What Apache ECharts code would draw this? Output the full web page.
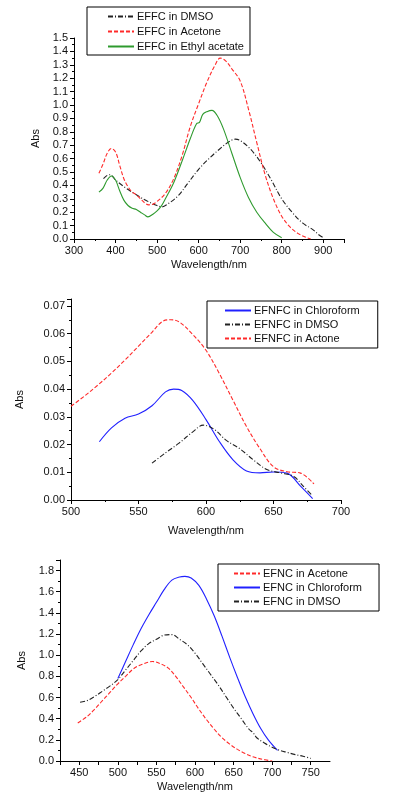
<!DOCTYPE html>
<html>
<head>
    <meta charset="utf-8">
    <title>absorption spectra</title>
    <script src="https://cdn.jsdelivr.net/npm/echarts@6/dist/echarts.min.js"></script>
    <style>
        html, body { margin: 0; padding: 0; background: #fff; }
    </style>
</head>
<body>
<div id="chart" style="width: 399px; height: 802px;"></div>
<script>
    // spectra: [wavelength nm, Abs]
    var effcDmso = [[371, 0.45], [380, 0.475], [387, 0.48], [400, 0.44], [425, 0.38], [450, 0.33], [475, 0.285], [500, 0.25], [512, 0.24], [525, 0.26], [550, 0.32], [575, 0.42], [600, 0.52], [625, 0.6], [650, 0.67], [675, 0.73], [688, 0.745], [700, 0.735], [725, 0.67], [750, 0.57], [775, 0.44], [800, 0.3], [825, 0.2], [850, 0.12], [875, 0.07], [890, 0.03], [900, 0.01]];
    var effcAcetone = [[360, 0.49], [370, 0.56], [380, 0.64], [390, 0.675], [400, 0.65], [410, 0.55], [420, 0.45], [430, 0.39], [440, 0.35], [450, 0.33], [460, 0.3], [470, 0.27], [480, 0.255], [490, 0.26], [500, 0.28], [520, 0.34], [540, 0.45], [560, 0.62], [580, 0.84], [600, 1.01], [620, 1.17], [640, 1.3], [652, 1.35], [665, 1.33], [680, 1.27], [700, 1.18], [720, 0.97], [740, 0.72], [760, 0.48], [780, 0.3], [800, 0.17], [820, 0.09], [840, 0.04], [860, 0.01], [870, 0]];
    var effcEthyl = [[360, 0.35], [370, 0.38], [380, 0.44], [390, 0.47], [400, 0.44], [410, 0.36], [420, 0.29], [430, 0.25], [440, 0.23], [450, 0.22], [460, 0.2], [470, 0.18], [478, 0.165], [490, 0.185], [500, 0.21], [510, 0.245], [520, 0.3], [540, 0.42], [560, 0.58], [580, 0.75], [595, 0.86], [602, 0.87], [610, 0.93], [620, 0.95], [632, 0.96], [645, 0.92], [660, 0.82], [680, 0.64], [700, 0.46], [720, 0.31], [740, 0.2], [760, 0.12], [780, 0.05], [800, 0.01]];

    var efnfcChloro = [[521, 0.021], [530, 0.026], [540, 0.0295], [550, 0.031], [560, 0.034], [570, 0.039], [576, 0.040], [582, 0.0395], [590, 0.036], [600, 0.029], [610, 0.021], [620, 0.0145], [630, 0.0105], [640, 0.0098], [650, 0.0101], [660, 0.0097], [670, 0.005], [679, 0.0005]];
    var efnfcDmso = [[560, 0.0133], [570, 0.017], [580, 0.0205], [590, 0.0245], [598, 0.027], [606, 0.0255], [615, 0.0215], [625, 0.0185], [635, 0.0145], [645, 0.011], [655, 0.0098], [665, 0.0085], [672, 0.005], [679, 0.0015]];
    var efnfcActone = [[500, 0.0338], [510, 0.0375], [520, 0.0415], [530, 0.0458], [540, 0.0505], [550, 0.0555], [560, 0.0605], [568, 0.0645], [574, 0.065], [580, 0.0643], [590, 0.0598], [600, 0.054], [610, 0.0455], [620, 0.036], [630, 0.0265], [640, 0.0185], [650, 0.012], [660, 0.0102], [670, 0.0097], [680, 0.0058]];

    var efncAcetone = [[448, 0.36], [460, 0.42], [470, 0.49], [480, 0.57], [490, 0.65], [500, 0.73], [510, 0.8], [520, 0.87], [530, 0.91], [545, 0.94], [555, 0.92], [565, 0.88], [575, 0.8], [585, 0.7], [595, 0.6], [605, 0.49], [615, 0.39], [625, 0.3], [635, 0.22], [645, 0.16], [655, 0.11], [665, 0.07], [675, 0.04], [685, 0.02], [700, 0]];
    var efncChloro = [[500, 0.78], [510, 0.94], [520, 1.1], [530, 1.25], [540, 1.38], [550, 1.5], [560, 1.62], [570, 1.71], [580, 1.74], [587, 1.745], [595, 1.73], [605, 1.66], [615, 1.53], [625, 1.37], [635, 1.18], [645, 0.98], [655, 0.79], [665, 0.61], [675, 0.45], [685, 0.31], [695, 0.2], [707, 0.1]];
    var efncDmso = [[451, 0.555], [460, 0.57], [470, 0.61], [480, 0.66], [490, 0.71], [500, 0.77], [510, 0.86], [520, 0.95], [530, 1.04], [540, 1.11], [550, 1.15], [560, 1.19], [570, 1.195], [580, 1.15], [590, 1.1], [600, 1.02], [610, 0.92], [620, 0.82], [630, 0.72], [640, 0.61], [650, 0.5], [660, 0.4], [670, 0.3], [675, 0.27], [680, 0.22], [690, 0.17], [700, 0.13], [710, 0.1], [720, 0.08], [730, 0.06], [740, 0.045], [750, 0.025]];

    var FONT = 'Liberation Sans, Arial, sans-serif';
    var RED = '#ff2a2a', BLUE = '#2020ff', GREEN = '#2e9a2e', BLACK = '#222222';
    var DASH = [4, 2];
    var DASHDOT = [5, 2, 1, 2];

    function xAxis(idx, min, max, interval, gap, showMax, labelFn) {
        return {
            type: 'value', gridIndex: idx, min: min, max: max, interval: interval,
            name: 'Wavelength/nm', nameLocation: 'middle', nameGap: gap,
            nameTextStyle: {fontFamily: FONT, fontSize: 11, color: '#111'},
            axisLine: {onZero: false, lineStyle: {color: '#000', width: 1}},
            axisTick: {show: true, length: 4, lineStyle: {color: '#000'}},
            minorTick: {show: labelFn ? false : true, splitNumber: 2, length: 2, lineStyle: {color: '#000'}},
            axisLabel: {
                fontFamily: FONT, fontSize: 11, color: '#111', margin: 6, showMaxLabel: showMax,
                formatter: labelFn || function (v) { return v; }
            },
            splitLine: {show: false}
        };
    }

    function yAxis(idx, max, interval, gap, digits, showMax) {
        return {
            type: 'value', gridIndex: idx, min: 0, max: max, interval: interval,
            name: 'Abs', nameLocation: 'middle', nameRotate: 90, nameGap: gap,
            nameTextStyle: {fontFamily: FONT, fontSize: 11, color: '#111'},
            axisLine: {show: true, onZero: false, lineStyle: {color: '#000', width: 1}},
            axisTick: {show: true, length: 4, lineStyle: {color: '#000'}},
            minorTick: {show: true, splitNumber: 2, length: 2, lineStyle: {color: '#000'}},
            axisLabel: {
                fontFamily: FONT, fontSize: 11, color: '#111', margin: 6, showMaxLabel: showMax,
                formatter: function (v) { return v.toFixed(digits); }
            },
            splitLine: {show: false}
        };
    }

    function line(name, idx, data, color, type) {
        return {
            name: name, type: 'line', xAxisIndex: idx, yAxisIndex: idx,
            data: data, smooth: 0.35, symbol: 'none',
            lineStyle: {color: color, width: 1.1, type: type},
            itemStyle: {color: color},
            emphasis: {disabled: true}
        };
    }

    function legend(names, left, top, padding, pitchGap) {
        return {
            orient: 'vertical', left: left, top: top, padding: padding,
            data: names, itemWidth: 26, itemHeight: 11, itemGap: pitchGap,
            borderColor: '#000', borderWidth: 1, selectedMode: false,
            itemStyle: {opacity: 0, color: 'rgba(0,0,0,0)', borderWidth: 0},
            textStyle: {fontFamily: FONT, fontSize: 11, color: '#111', padding: [0, 0, 0, -2]}
        };
    }

    var chart = echarts.init(document.getElementById('chart'));
    var option = {
        animation: false,
        backgroundColor: '#fff',
        grid: [
            {left: 74, top: 38, width: 270, height: 201},
            {left: 71, top: 299, width: 270, height: 201},
            {left: 60, top: 560, width: 270, height: 201}
        ],
        xAxis: [
            xAxis(0, 300, 950, 100, 20, false),
            xAxis(1, 500, 700, 50, 25, true),
            xAxis(2, 425, 775, 25, 20, false, function (v) { return v % 50 === 0 ? v : ''; })
        ],
        yAxis: [
            yAxis(0, 1.5, 0.1, 30, 1, true),
            yAxis(1, 0.0725, 0.01, 46, 2, false),
            yAxis(2, 1.9, 0.2, 33, 1, false)
        ],
        legend: [
            legend(['EFFC in DMSO', 'EFFC in Acetone', 'EFFC in Ethyl acetate'], 87, 7, [4, 6, 3, 20], 4),
            legend(['EFNFC in Chloroform', 'EFNFC in DMSO', 'EFNFC in Actone'], 207, 301, [4, 18, 4, 17], 3),
            legend(['EFNC in Acetone', 'EFNC in Chloroform', 'EFNC in DMSO'], 218, 564, [4, 17, 4, 15], 3)
        ],
        series: [
            line('EFFC in DMSO', 0, effcDmso, BLACK, DASHDOT),
            line('EFFC in Acetone', 0, effcAcetone, RED, DASH),
            line('EFFC in Ethyl acetate', 0, effcEthyl, GREEN, 'solid'),
            line('EFNFC in Chloroform', 1, efnfcChloro, BLUE, 'solid'),
            line('EFNFC in DMSO', 1, efnfcDmso, BLACK, DASHDOT),
            line('EFNFC in Actone', 1, efnfcActone, RED, DASH),
            line('EFNC in Acetone', 2, efncAcetone, RED, DASH),
            line('EFNC in Chloroform', 2, efncChloro, BLUE, 'solid'),
            line('EFNC in DMSO', 2, efncDmso, BLACK, DASHDOT)
        ]
    };
    chart.setOption(option);
</script>
</body>
</html>
